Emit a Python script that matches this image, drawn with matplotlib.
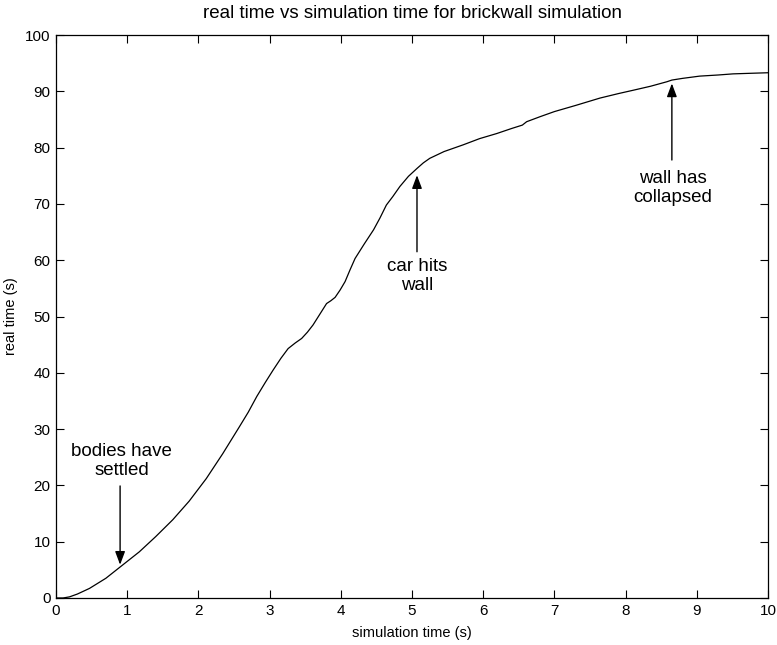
import matplotlib
matplotlib.use("Agg")
import matplotlib.pyplot as plt

plt.rcParams['font.family'] = ['Liberation Sans', 'DejaVu Sans']

sim_time = [0.0, 0.1, 0.19, 0.3, 0.47, 0.70, 0.94, 1.17, 1.40, 1.64, 1.87, 2.11, 2.34,
            2.57, 2.70, 2.82, 2.94, 3.05, 3.16, 3.26, 3.36, 3.45, 3.53, 3.61, 3.70,
            3.80, 3.86, 3.92, 3.99, 4.06, 4.13, 4.20, 4.33, 4.46, 4.55, 4.64, 4.73,
            4.83, 4.95, 5.07, 5.16, 5.25, 5.45, 5.72, 5.95, 6.19, 6.4, 6.55, 6.61,
            6.8, 7.0, 7.3, 7.64, 7.9, 8.11, 8.35, 8.58, 8.65, 8.8, 9.04, 9.3, 9.51,
            9.75, 10.0]
real_time = [0.0, 0.0, 0.2, 0.7, 1.7, 3.5, 5.9, 8.2, 10.9, 13.9, 17.2, 21.2, 25.6,
             30.3, 33.0, 35.8, 38.3, 40.5, 42.6, 44.3, 45.3, 46.1, 47.2, 48.5, 50.3,
             52.3, 52.8, 53.4, 54.7, 56.2, 58.3, 60.3, 62.9, 65.4, 67.5, 69.8, 71.3,
             73.1, 74.9, 76.3, 77.3, 78.1, 79.3, 80.5, 81.6, 82.5, 83.4, 84.0, 84.6,
             85.5, 86.4, 87.5, 88.8, 89.6, 90.2, 90.9, 91.7, 92.0, 92.3, 92.7, 92.9,
             93.1, 93.2, 93.3]

ann_text = ["bodies have\nsettled", "car hits\nwall", "wall has\ncollapsed"]
ann_tip = [(0.9, 5.9), (5.07, 75.1), (8.65, 91.4)]
ann_tail = [(0.9, 19.9), (5.07, 61.5), (8.65, 77.8)]
ann_textpos = [(0.92, 24.4), (5.07, 57.2), (8.66, 72.9)]

fig = plt.figure(figsize=(7.77, 6.45), dpi=100)
ax = fig.add_axes([0.0721, 0.0729, 0.9163, 0.8728])
ax.plot(sim_time, real_time, color='black', linewidth=0.9)

for txt, tip, tail, tp in zip(ann_text, ann_tip, ann_tail, ann_textpos):
    ax.annotate('', xy=tip, xytext=tail,
                arrowprops=dict(arrowstyle='-|>,head_length=0.8,head_width=0.3',
                                color='black', linewidth=1.0, shrinkA=0, shrinkB=0))
    ax.text(tp[0], tp[1], txt, ha='center', va='center', fontsize=13.5,
            linespacing=1.15)

ax.set_xlim(0, 10)
ax.set_ylim(0, 100)
ax.set_xticks(range(0, 11))
ax.set_yticks(range(0, 101, 10))
ax.tick_params(direction='in', top=True, right=True, length=6, width=0.8,
               labelsize=11, pad=4)
for s in ax.spines.values():
    s.set_linewidth(0.9)
ax.set_xlabel('simulation time (s)', fontsize=10.5, labelpad=6)
ax.set_ylabel('real time (s)', fontsize=10.5, labelpad=5)
ax.set_title('real time vs simulation time for brickwall simulation', fontsize=13.5, pad=12)

fig.savefig('out.png', dpi=100)
